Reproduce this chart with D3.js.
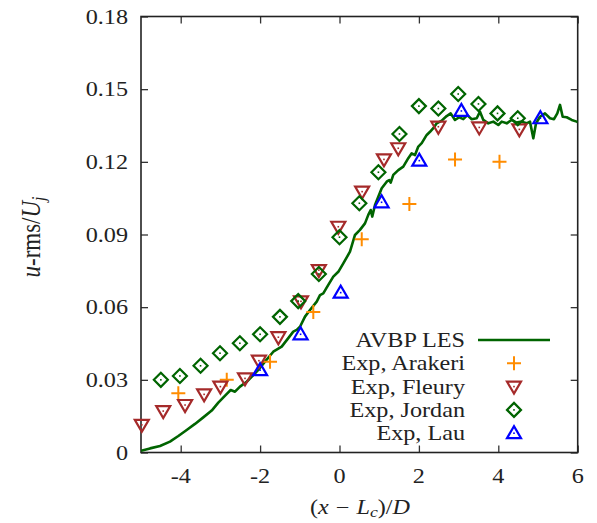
<!DOCTYPE html>
<html><head><meta charset="utf-8">
<script src="https://cdn.jsdelivr.net/npm/d3@7"></script>
<style>body{margin:0;background:#fff}svg{display:block}text{font-family:"Liberation Serif","DejaVu Serif",serif;fill:#222}</style>
</head><body>
<svg id="c" width="597" height="523"></svg>
<script>
const lesX = [-5.00,-4.773,-4.521,-4.270,-4.060,-3.849,-3.640,-3.431,-3.219,-3.053,-2.826,-2.741,-2.632,-2.506,-2.338,-2.171,-2.045,-1.877,-1.668,-1.456,-1.290,-1.164,-1.078,-0.995,-0.869,-0.743,-0.574,-0.491,-0.408,-0.282,-0.156,-0.030,0.096,0.264,0.390,0.516,0.642,0.725,0.786,0.826,0.894,0.977,1.063,1.189,1.254,1.290,1.355,1.481,1.607,1.733,1.819,1.902,1.985,2.071,2.197,2.280,2.363,2.448,2.574,2.700,2.801,2.909,3.018,3.118,3.219,3.330,3.456,3.539,3.622,3.748,3.874,4.000,4.086,4.212,4.338,4.463,4.589,4.715,4.798,4.882,4.950,5.050,5.176,5.302,5.403,5.486,5.554,5.622,5.723,5.849,5.975,6.0];
const lesY = [0.0007,0.0017,0.0027,0.0045,0.0068,0.0093,0.0118,0.0145,0.0173,0.0206,0.0244,0.0258,0.0251,0.0272,0.0292,0.0320,0.0341,0.0375,0.0416,0.0437,0.0472,0.0499,0.0506,0.0519,0.0561,0.0588,0.0623,0.0650,0.0657,0.0692,0.0726,0.0746,0.0781,0.0829,0.0898,0.0919,0.0946,0.0981,0.1001,0.0974,0.1022,0.1056,0.1091,0.1118,0.1125,0.1114,0.1146,0.1166,0.1180,0.1215,0.1235,0.1228,0.1263,0.1277,0.1311,0.1324,0.1339,0.1359,0.1370,0.1389,0.1400,0.1373,0.1384,0.1376,0.1393,0.1376,0.1380,0.1407,0.1373,0.1359,0.1366,0.1352,0.1366,0.1359,0.1373,0.1362,0.1366,0.1359,0.1366,0.1297,0.1359,0.1386,0.1400,0.1380,0.1376,0.1400,0.1435,0.1386,0.1384,0.1373,0.1366,0.1365];

const arakeriX = [-4.06,-2.84,-1.75,-0.66,0.56,1.76,2.91,4.03];
const arakeriY = [0.0245,0.0300,0.0375,0.0580,0.0880,0.1026,0.1210,0.1200];

const fleuryX = [-4.98,-4.44,-3.89,-3.41,-3.00,-2.38,-2.03,-1.54,-0.97,-0.52,-0.03,0.57,1.12,1.48,2.49,3.52,4.53];
const fleuryY = [0.0114,0.0171,0.0196,0.0240,0.0272,0.0306,0.0379,0.0476,0.0624,0.0753,0.0932,0.1077,0.1210,0.1256,0.1345,0.1342,0.1334];

const jordanX = [-4.50,-4.02,-3.50,-3.01,-2.51,-2.00,-1.50,-1.04,-0.52,0.00,0.50,0.98,1.51,2.00,2.49,2.99,3.50,3.98,4.49];
const jordanY = [0.0300,0.0316,0.0358,0.0410,0.0451,0.0488,0.0560,0.0625,0.0737,0.0889,0.1029,0.1157,0.1315,0.1430,0.1420,0.1480,0.1439,0.1400,0.1380];

const lauX = [-2.00,-0.98,0.03,1.06,2.01,3.07,5.06];
const lauY = [0.0340,0.0488,0.0660,0.1033,0.1205,0.1410,0.1380];

const xTicks = [-4,-2,0,2,4,6];
const yTicks = [0,0.03,0.06,0.09,0.12,0.15,0.18];
const legendLabels = ["AVBP LES","Exp, Arakeri","Exp, Fleury","Exp, Jordan","Exp, Lau"];

const colGreen = "#006400", colOrange = "#ff8c00", colRed = "#a52a2a", colBlue = "#0000ff";

const svg = d3.select("#c");
const L = 141, R = 577.7, T = 16.5, B = 452.5;
const x = d3.scaleLinear().domain([-5,6]).range([L,R]);
const y = d3.scaleLinear().domain([0,0.18]).range([B,T]);
const SX = 1.18, FS = 20.5;

svg.append("clipPath").attr("id","clip").append("rect").attr("x",L).attr("y",T).attr("width",R-L).attr("height",B-T);

// ticks inside on all four sides
const tl = 7;
const axB = svg.append("g").attr("transform",`translate(0,${B})`).call(d3.axisBottom(x).tickValues(xTicks).tickSize(-tl).tickFormat(""));
const axT = svg.append("g").attr("transform",`translate(0,${T})`).call(d3.axisTop(x).tickValues(xTicks).tickSize(-tl).tickFormat(""));
const axL = svg.append("g").attr("transform",`translate(${L},0)`).call(d3.axisLeft(y).tickValues(yTicks).tickSize(-tl).tickFormat(""));
const axR = svg.append("g").attr("transform",`translate(${R},0)`).call(d3.axisRight(y).tickValues(yTicks).tickSize(-tl).tickFormat(""));
[axB,axT,axL,axR].forEach(a=>{a.select(".domain").remove();a.selectAll("line").attr("stroke","#333").attr("stroke-width",1.3);});
svg.append("rect").attr("x",L).attr("y",T).attr("width",R-L).attr("height",B-T).attr("fill","none").attr("stroke","#222").attr("stroke-width",1.6);

function stxt(parent,px,py,anchor,size){
  return parent.append("text").attr("transform",`translate(${px},${py}) scale(${SX},1)`)
    .attr("text-anchor",anchor).attr("font-size",size);
}

// tick labels
const gx = svg.append("g");
xTicks.forEach(d=>stxt(gx,x(d),483,"middle",FS).text(d<0?"-"+Math.abs(d):d));
const gy = svg.append("g");
yTicks.forEach(d=>stxt(gy,128,y(d)+7,"end",FS).text(d===0?"0":d.toFixed(2)));

// axis titles
const xl = stxt(svg,360,514,"middle",FS);
xl.append("tspan").text("(");
xl.append("tspan").attr("font-style","italic").text("x");
xl.append("tspan").attr("dx",6).text("\u2212");
xl.append("tspan").attr("dx",6).attr("font-style","italic").text("L");
xl.append("tspan").attr("font-style","italic").attr("font-size",15).attr("dy",3).text("c");
xl.append("tspan").attr("dy",-3).text(")/");
xl.append("tspan").attr("font-style","italic").text("D");

const yl = svg.append("text").attr("transform",`translate(40,237) rotate(-90) scale(1,${SX})`).attr("text-anchor","middle").attr("font-size",23);
yl.append("tspan").attr("font-style","italic").text("u");
yl.append("tspan").text("-rms/");
yl.append("tspan").attr("font-style","italic").text("U");
yl.append("tspan").attr("font-style","italic").attr("font-size",16).attr("dy",4).text("j");

// LES line
const les = lesX.map((v,i)=>[v,lesY[i]]);
svg.append("path").datum(les).attr("clip-path","url(#clip)")
  .attr("d",d3.line().x(d=>x(d[0])).y(d=>y(d[1])))
  .attr("fill","none").attr("stroke",colGreen).attr("stroke-width",2.6).attr("stroke-linejoin","round");

// marker shapes
function dot(g,c){g.append("rect").attr("x",-0.8).attr("y",-0.8).attr("width",1.6).attr("height",1.6).attr("fill",c);}
function plus(g,c){g.append("path").attr("d","M-7,0H7M0,-7V7").attr("stroke",c).attr("stroke-width",2).attr("fill","none");}
function triDown(g,c){g.append("path").attr("d","M-7,-5H7L0,7Z").attr("stroke",c).attr("stroke-width",2.2).attr("fill","none");dot(g,c);}
function triUp(g,c){g.append("path").attr("d","M-7,5H7L0,-7Z").attr("stroke",c).attr("stroke-width",2.2).attr("fill","none");dot(g,c);}
function diamond(g,c){g.append("path").attr("d","M0,-7L7,0L0,7L-7,0Z").attr("stroke",c).attr("stroke-width",2.2).attr("fill","none");dot(g,c);}

function series(xs,ys,fn,c){
  const g = svg.append("g");
  xs.forEach((v,i)=>{const m=g.append("g").attr("transform",`translate(${x(v)},${y(ys[i])})`);fn(m,c);});
}
series(arakeriX,arakeriY,plus,colOrange);
series(fleuryX,fleuryY,triDown,colRed);
series(jordanX,jordanY,diamond,colGreen);
series(lauX,lauY,triUp,colBlue);

// legend
const ly0 = 340, ldy = 23.3, ltx = 465, lmx = 514;
const lg = svg.append("g");
legendLabels.forEach((t,i)=>stxt(lg,ltx,ly0+i*ldy+7,"end",FS).text(t));
lg.append("line").attr("x1",478).attr("x2",550).attr("y1",ly0).attr("y2",ly0).attr("stroke",colGreen).attr("stroke-width",2.6);
[[plus,colOrange],[triDown,colRed],[diamond,colGreen],[triUp,colBlue]].forEach((p,i)=>{
  const m = lg.append("g").attr("transform",`translate(${lmx},${ly0+(i+1)*ldy})`);
  p[0](m,p[1]);
});
</script>
</body></html>
